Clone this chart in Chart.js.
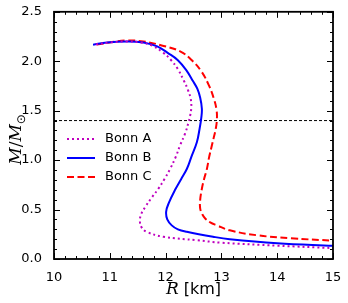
<!DOCTYPE html>
<html>
<head>
<meta charset="utf-8">
<script src="https://cdn.jsdelivr.net/npm/chart.js@4/dist/chart.umd.min.js"></script>
<style>
  body { margin: 0; background: #fff; }
  canvas { display: block; }
</style>
</head>
<body>
<canvas id="mr" width="348" height="303"></canvas>
<script>
// mass-radius curves (R in km, M in solar masses)
const bonnA_R = [10.75, 11.0, 11.3, 11.55, 11.75, 11.95, 12.1, 12.22, 12.33, 12.40, 12.45, 12.46, 12.44, 12.41, 12.35, 12.26, 12.18, 12.08, 11.98, 11.87, 11.75, 11.64, 11.56, 11.54, 11.57, 11.66, 11.96, 12.56, 13.0, 14.0, 15.0];
const bonnA_M = [2.17, 2.19, 2.20, 2.19, 2.16, 2.09, 2.01, 1.92, 1.80, 1.71, 1.62, 1.53, 1.45, 1.38, 1.27, 1.15, 1.03, 0.91, 0.81, 0.71, 0.62, 0.53, 0.45, 0.376, 0.32, 0.275, 0.225, 0.19, 0.165, 0.135, 0.11];

const bonnB_R = [10.70, 10.95, 11.3, 11.6, 11.85, 12.05, 12.22, 12.37, 12.49, 12.57, 12.62, 12.65, 12.64, 12.61, 12.56, 12.46, 12.38, 12.28, 12.17, 12.06, 12.01, 12.03, 12.11, 12.22, 12.38, 12.85, 13.15, 14.0, 15.0];
const bonnB_M = [2.167, 2.19, 2.20, 2.19, 2.15, 2.08, 2.01, 1.91, 1.80, 1.72, 1.63, 1.52, 1.43, 1.32, 1.18, 1.03, 0.91, 0.81, 0.70, 0.57, 0.48, 0.40, 0.34, 0.30, 0.275, 0.225, 0.20, 0.16, 0.134];

const bonnC_R = [10.77, 11.0, 11.3, 11.6, 11.93, 12.26, 12.47, 12.65, 12.78, 12.86, 12.91, 12.92, 12.90, 12.86, 12.83, 12.78, 12.74, 12.69, 12.65, 12.62, 12.62, 12.66, 12.71, 12.80, 12.92, 13.15, 13.64, 14.24, 15.0];
const bonnC_M = [2.17, 2.19, 2.21, 2.20, 2.16, 2.10, 2.01, 1.89, 1.75, 1.63, 1.52, 1.42, 1.32, 1.22, 1.15, 1.03, 0.91, 0.81, 0.71, 0.60, 0.51, 0.45, 0.41, 0.37, 0.34, 0.29, 0.24, 0.21, 0.185];

// 1.4 solar mass reference line
const refR = [10, 15];
const refM = [1.4, 1.4];

const xTicks = [10, 11, 12, 13, 14, 15];
const yTicks = [0.0, 0.5, 1.0, 1.5, 2.0, 2.5];

function pts(xs, ys) {
  return xs.map((x, i) => ({ x: x, y: ys[i] }));
}

// inward ticks on all four sides + frame
const frameTicks = {
  id: 'frameTicks',
  afterDraw(chart) {
    const { ctx, chartArea: a, scales: { x, y } } = chart;
    ctx.save();
    ctx.strokeStyle = '#000';
    ctx.lineWidth = 1;
    function xt(v, len) {
      const px = Math.round(x.getPixelForValue(v)) + 0.5;
      ctx.beginPath();
      ctx.moveTo(px, a.bottom); ctx.lineTo(px, a.bottom - len);
      ctx.moveTo(px, a.top); ctx.lineTo(px, a.top + len);
      ctx.stroke();
    }
    function yt(v, len) {
      const py = Math.round(y.getPixelForValue(v)) + 0.5;
      ctx.beginPath();
      ctx.moveTo(a.left, py); ctx.lineTo(a.left + len, py);
      ctx.moveTo(a.right, py); ctx.lineTo(a.right - len, py);
      ctx.stroke();
    }
    for (let v = 10; v <= 15.001; v += 0.2) xt(v, 3);
    xTicks.forEach(v => xt(v, 6));
    for (let v = 0; v <= 2.5001; v += 0.1) yt(v, 3);
    yTicks.forEach(v => yt(v, 6));
    ctx.lineWidth = 1.8;
    ctx.strokeRect(a.left, a.top, a.right - a.left, a.bottom - a.top);

    // axis titles
    ctx.fillStyle = '#000';
    ctx.textBaseline = 'alphabetic';
    const cx = (a.left + a.right) / 2;
    ctx.font = 'italic 17px "DejaVu Serif"';
    const rW = ctx.measureText('R').width;
    ctx.font = '16px "DejaVu Sans"';
    const kW = ctx.measureText(' [km]').width;
    let sx = cx - (rW + kW) / 2;
    ctx.font = 'italic 17px "DejaVu Serif"';
    ctx.fillText('R', sx, 294);
    ctx.font = '16px "DejaVu Sans"';
    ctx.fillText(' [km]', sx + rW, 294);

    ctx.translate(21, (a.top + a.bottom) / 2 + 4);
    ctx.rotate(-Math.PI / 2);
    ctx.font = 'italic 17px "DejaVu Serif"';
    const m1 = ctx.measureText('M').width;
    ctx.font = '17px "DejaVu Serif"';
    const sl = ctx.measureText('/').width;
    ctx.font = '12px "DejaVu Sans"';
    const od = ctx.measureText('\u2299').width;
    let tx = -(2 * m1 + sl + od) / 2;
    ctx.font = 'italic 17px "DejaVu Serif"';
    ctx.fillText('M', tx, 0); tx += m1;
    ctx.font = '17px "DejaVu Serif"';
    ctx.fillText('/', tx, 0); tx += sl;
    ctx.font = 'italic 17px "DejaVu Serif"';
    ctx.fillText('M', tx, 0); tx += m1;
    ctx.font = '12px "DejaVu Sans"';
    ctx.fillText('\u2299', tx, 4);
    ctx.restore();
  }
};

// legend in the upper-left free space of the plot
const innerLegend = {
  id: 'innerLegend',
  afterDatasetsDraw(chart) {
    const ctx = chart.ctx;
    const items = chart.data.datasets.filter(d => d.label);
    ctx.save();
    ctx.font = '13px "DejaVu Sans"';
    ctx.textBaseline = 'middle';
    items.forEach((d, i) => {
      const yy = 139 + i * 19;
      ctx.strokeStyle = d.borderColor;
      ctx.lineWidth = d.borderWidth;
      ctx.setLineDash(d.borderDash || []);
      ctx.beginPath();
      ctx.moveTo(67, yy); ctx.lineTo(95, yy);
      ctx.stroke();
      ctx.setLineDash([]);
      ctx.fillStyle = '#000';
      ctx.fillText(d.label, 105, yy);
    });
    ctx.restore();
  }
};

const lineStyle = { showLine: true, pointRadius: 0, fill: false, tension: 0.4, borderWidth: 2 };

new Chart(document.getElementById('mr'), {
  type: 'scatter',
  data: {
    datasets: [
      Object.assign({ label: 'Bonn A', data: pts(bonnA_R, bonnA_M), borderColor: '#bf00bf', borderDash: [2, 3] }, lineStyle),
      Object.assign({ label: 'Bonn B', data: pts(bonnB_R, bonnB_M), borderColor: '#0000ff' }, lineStyle),
      Object.assign({ label: 'Bonn C', data: pts(bonnC_R, bonnC_M), borderColor: '#ff0000', borderDash: [7, 3.5] }, lineStyle),
      { label: '', data: pts(refR, refM), showLine: true, pointRadius: 0, borderColor: '#000', borderWidth: 1, borderDash: [3, 2], tension: 0 }
    ]
  },
  options: {
    responsive: false,
    animation: false,
    layout: { padding: { top: 11, right: 15 } },
    plugins: { legend: { display: false }, tooltip: { enabled: false } },
    scales: {
      x: {
        type: 'linear', min: 10, max: 15,
        grid: { display: false }, border: { display: false },
        afterBuildTicks: s => { s.ticks = xTicks.map(v => ({ value: v })); },
        afterFit: s => { s.height = 44; },
        ticks: { padding: 3, color: '#000', font: { family: 'DejaVu Sans', size: 13 }, maxRotation: 0 }
      },
      y: {
        type: 'linear', min: 0, max: 2.5,
        grid: { display: false }, border: { display: false },
        afterBuildTicks: s => { s.ticks = yTicks.map(v => ({ value: v })); },
        afterFit: s => { s.width = 54; },
        ticks: { padding: 4, color: '#000', font: { family: 'DejaVu Sans', size: 13 }, callback: v => v.toFixed(1) }
      }
    }
  },
  plugins: [frameTicks, innerLegend]
});
</script>
</body>
</html>
